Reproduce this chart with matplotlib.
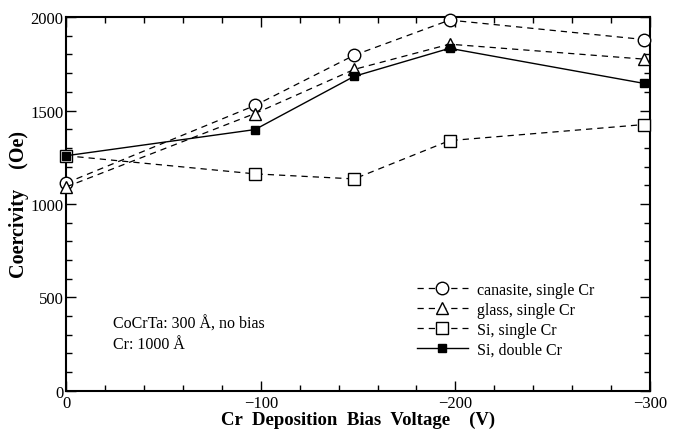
import numpy as np
import matplotlib.pyplot as plt
from matplotlib.ticker import MultipleLocator

plt.rcParams['font.family'] = ['Liberation Serif', 'DejaVu Serif']

# bias voltage (V)
bias = [0, -97, -148, -197, -297]

# coercivity (Oe)
canasite_single = [1112, 1527, 1796, 1984, 1880]
glass_single = [1091, 1484, 1720, 1855, 1775]
si_single = [1258, 1161, 1134, 1339, 1425]
si_double = [1258, 1398, 1683, 1833, 1645]

fig = plt.figure(figsize=(6.75, 4.31), dpi=100)
ax = fig.add_axes([0.098, 0.091, 0.865, 0.867])

ax.plot(bias, canasite_single, 'k--', marker='o', mfc='white', ms=9, lw=0.9,
        dashes=(5, 4), label='canasite, single Cr', clip_on=False, zorder=3)
ax.plot(bias, glass_single, 'k--', marker='^', mfc='white', ms=8, lw=0.9,
        dashes=(5, 4), label='glass, single Cr', clip_on=False, zorder=3)
ax.plot(bias, si_single, 'k--', marker='s', mfc='white', ms=9, lw=0.9,
        dashes=(5, 4), label='Si, single Cr', clip_on=False, zorder=3)
ax.plot(bias, si_double, 'k-', marker='s', mfc='black', ms=5.5, lw=1.0,
        label='Si, double Cr', clip_on=False, zorder=4)

ax.set_xlim(0, -300)
ax.set_ylim(0, 2000)
ax.xaxis.set_major_locator(MultipleLocator(100))
ax.xaxis.set_minor_locator(MultipleLocator(20))
ax.yaxis.set_major_locator(MultipleLocator(500))
ax.yaxis.set_minor_locator(MultipleLocator(100))
ax.tick_params(which='both', direction='in', top=True, right=True,
               labelsize=12, width=1.0)
ax.tick_params(which='major', length=7)
ax.tick_params(which='minor', length=4)
ax.tick_params(axis='x', pad=3)
ax.tick_params(axis='y', pad=2)
for s in ax.spines.values():
    s.set_linewidth(1.5)

ax.set_xlabel('Cr  Deposition  Bias  Voltage    (V)', fontsize=13.5,
              fontweight='bold', labelpad=0)
ax.set_ylabel('Coercivity    (Oe)', fontsize=14.5, fontweight='bold', labelpad=1)

ax.text(0.08, 0.105, 'CoCrTa: 300 Å, no bias\nCr: 1000 Å', transform=ax.transAxes,
        fontsize=11.5, linespacing=1.3, va='bottom')

ax.legend(loc='lower right', bbox_to_anchor=(0.93, 0.05), frameon=False,
          fontsize=11.5, handlelength=3.2, handletextpad=0.6, labelspacing=0.25)

plt.savefig('out.png', dpi=100)
